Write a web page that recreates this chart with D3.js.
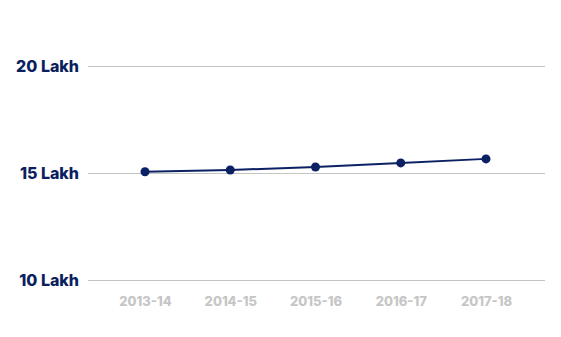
<!DOCTYPE html>
<html>
<head>
<meta charset="utf-8">
<script src="https://cdn.jsdelivr.net/npm/d3@7"></script>
<style>
  body { margin: 0; background: #fff; }
  .chart text { font-family: Inter, "Noto Sans", sans-serif; font-weight: 800; }
</style>
</head>
<body>
<div class="chart"></div>
<script>
// Data
const years = ["2013-14", "2014-15", "2015-16", "2016-17", "2017-18"];
const values = [15.06, 15.14, 15.28, 15.47, 15.66]; // in Lakh
const yTicks = [10, 15, 20];

const width = 561, height = 337;

const x = d3.scalePoint().domain(years).range([145, 486]);
const y = d3.scaleLinear().domain([10, 20]).range([280, 66]);

const svg = d3.select(".chart").append("svg")
    .attr("width", width)
    .attr("height", height);

// Gridlines + y labels
const yAxis = d3.axisLeft(y)
    .tickValues(yTicks)
    .tickSize(-(545 - 88))
    .tickPadding(9)
    .tickFormat(d => d + " Lakh");

svg.append("g")
    .attr("transform", "translate(88,0)")
    .call(yAxis)
    .call(g => g.select(".domain").remove())
    .call(g => g.selectAll("line").attr("stroke", "#c4c4c4").attr("stroke-width", 1))
    .call(g => g.selectAll("text").attr("fill", "#0b1f5e").style("font-size", "16px"));

// x labels
const xAxis = d3.axisBottom(x).tickSize(0).tickPadding(0);
svg.append("g")
    .attr("transform", "translate(0,297)")
    .call(xAxis)
    .call(g => g.select(".domain").remove())
    .call(g => g.selectAll("text").attr("fill", "#c6c6c6").style("font-size", "13px"));

// Line
const line = d3.line()
    .x((d, i) => x(years[i]))
    .y(d => y(d));

svg.append("path")
    .datum(values)
    .attr("fill", "none")
    .attr("stroke", "#0b2163")
    .attr("stroke-width", 2)
    .attr("d", line);

// Dots
svg.selectAll(".dot")
    .data(values)
    .join("circle")
    .attr("class", "dot")
    .attr("cx", (d, i) => x(years[i]))
    .attr("cy", d => y(d))
    .attr("r", 4.5)
    .attr("fill", "#0b2163");
</script>
</body>
</html>
